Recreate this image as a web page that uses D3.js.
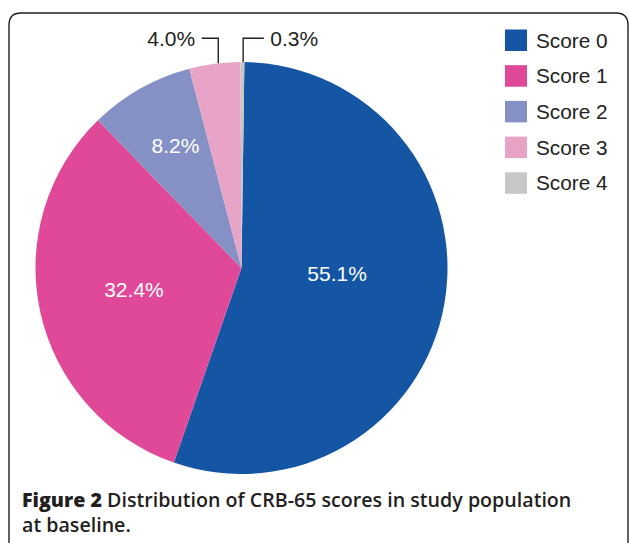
<!DOCTYPE html>
<html><head><meta charset="utf-8">
<script src="https://cdn.jsdelivr.net/npm/d3@7"></script>
<style>
html,body{margin:0;padding:0;background:#fff;}
svg{display:block;}
</style></head>
<body>
<svg id="chart" width="629" height="543"></svg>
<script>
// ---- data ----
const categories = ["Score 0", "Score 1", "Score 2", "Score 3", "Score 4"];
const values = [55.1, 32.4, 8.2, 4.0, 0.3];
const labels = ["55.1%", "32.4%", "8.2%", "4.0%", "0.3%"];
const colors = ["#1456a3", "#e04898", "#8591c4", "#e8a4c7", "#c6c7c6"];
const captionBold = "Figure 2";
const captionRest = " Distribution of CRB-65 scores in study population";
const captionLine2 = "at baseline.";

const svg = d3.select("#chart");
const ink = "#231f20";

// frame
const fx0 = 9, fy0 = 13, fx1 = 628, rr = 12;
svg.append("path")
  .attr("d", `M${fx0},543 L${fx0},${fy0+rr} Q${fx0},${fy0} ${fx0+rr},${fy0} L${fx1-rr},${fy0} Q${fx1},${fy0} ${fx1},${fy0+rr} L${fx1},543`)
  .attr("fill", "none").attr("stroke", ink).attr("stroke-width", 1.4);

// pie
const cx = 241.5, cy = 268, R = 206;
const rot = 0.8 * Math.PI / 180;
const pie = d3.pie().sort(null).value(d => d).startAngle(rot).endAngle(2*Math.PI + rot);
const arcs = pie(values);
const arc = d3.arc().innerRadius(0).outerRadius(R);
const g = svg.append("g").attr("transform", `translate(${cx},${cy})`);
g.selectAll("path.slice").data(arcs).enter().append("path")
  .attr("class", "slice")
  .attr("d", arc)
  .attr("fill", (d, i) => colors[i]);

const deg = Math.PI / 180;
const polar = (a, r) => [r * Math.sin(a), -r * Math.cos(a)];

// inside labels (radius fraction + angle tweak per slice)
const inside = [{i:0, rf:0.465, da:-6.4}, {i:1, rf:0.533, da:0.9}, {i:2, rf:0.676, da:1.1}];
inside.forEach(o => {
  const d = arcs[o.i];
  const mid = (d.startAngle + d.endAngle) / 2 + o.da * deg;
  const [x, y] = polar(mid, R * o.rf);
  g.append("text")
    .attr("x", x).attr("y", y)
    .attr("text-anchor", "middle").attr("dy", "0.35em")
    .attr("font-family", "Liberation Sans, Arial, sans-serif")
    .attr("font-size", 21).attr("fill", "#fff")
    .text(labels[o.i]);
});

// outside labels with elbow leaders
const lineY = 38.3 - cy;
const outside = [{i:3, da:1.0, dir:-1, len:16.6}, {i:4, da:0.2, dir:1, len:20.7}];
outside.forEach(o => {
  const d = arcs[o.i];
  const mid = (d.startAngle + d.endAngle) / 2 + o.da * deg;
  const [x, y] = polar(mid, R);
  const xe = x + o.dir * o.len;
  g.append("path")
    .attr("d", `M${x},${y} L${x},${lineY} L${xe},${lineY}`)
    .attr("fill", "none").attr("stroke", ink).attr("stroke-width", 1.4);
  g.append("text")
    .attr("x", xe + o.dir * 6.5).attr("y", lineY + 7.4)
    .attr("text-anchor", o.dir < 0 ? "end" : "start")
    .attr("font-family", "Liberation Sans, Arial, sans-serif")
    .attr("font-size", 21).attr("fill", ink)
    .text(labels[o.i]);
});

// legend
const leg = svg.append("g");
const ly = d3.scaleBand().domain(categories).range([29.5, 29.5 + 35.7 * 5]).paddingInner(0);
categories.forEach((c, i) => {
  leg.append("rect").attr("x", 505).attr("y", ly(c)).attr("width", 22).attr("height", 21.5).attr("fill", colors[i]);
  leg.append("text").attr("x", 536).attr("y", ly(c) + 18)
    .attr("font-family", "Liberation Sans, Arial, sans-serif")
    .attr("font-size", 20.8).attr("fill", ink).text(c);
});

// caption
const capFont = "'Open Sans', Lato, sans-serif";
const cap = svg.append("text").attr("x", 22).attr("y", 507)
  .attr("font-family", capFont).attr("fill", ink).attr("font-size", 20);
cap.append("tspan").attr("font-weight", 800).text(captionBold);
cap.append("tspan").attr("font-weight", 600).text(captionRest);
const w = cap.node().getComputedTextLength();
const fs = 20 * 550 / w;
cap.attr("font-size", fs);
svg.append("text").attr("x", 22).attr("y", 532)
  .attr("font-family", capFont).attr("fill", ink)
  .attr("font-size", fs).attr("font-weight", 600).text(captionLine2);
</script>
</body></html>
